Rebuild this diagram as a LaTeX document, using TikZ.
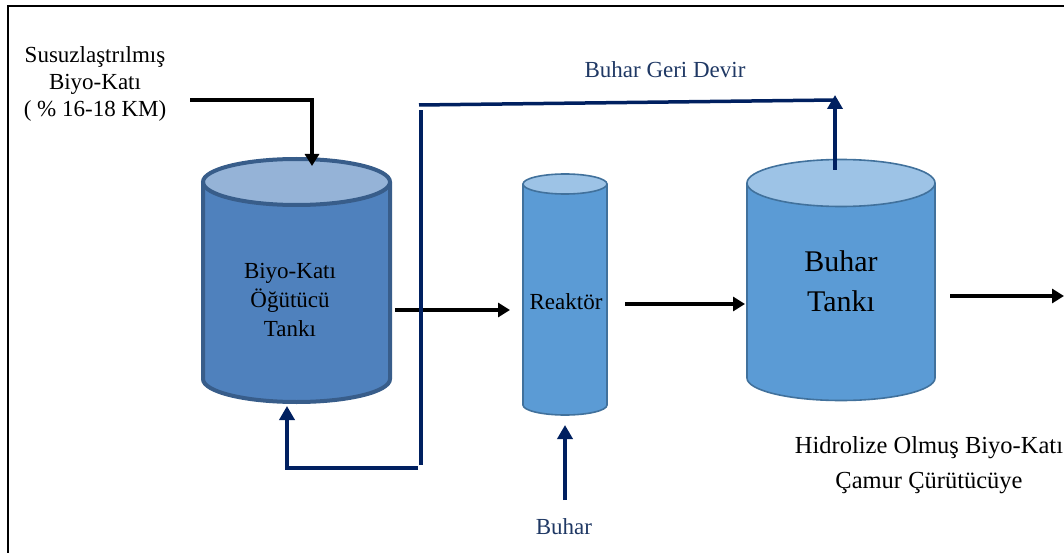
\documentclass[tikz,border=0pt]{standalone}
\usepackage{fontspec}
\setmainfont{Liberation Serif}
\usetikzlibrary{arrows.meta}
\definecolor{navy}{HTML}{002060}
\definecolor{navytext}{HTML}{1F3864}
\definecolor{cAbody}{HTML}{4F81BD}
\definecolor{cAtop}{HTML}{95B3D7}
\definecolor{cAline}{HTML}{385D8A}
\definecolor{cBbody}{HTML}{5B9BD5}
\definecolor{cBtop}{HTML}{9DC3E6}
\definecolor{cBline}{HTML}{41719C}
\begin{document}
\begin{tikzpicture}[x=1pt,y=-1pt,
  txt/.style={font=\fontsize{23pt}{27pt}\selectfont, align=center, inner sep=0pt},
  bigtxt/.style={font=\fontsize{30pt}{40pt}\selectfont, align=center, inner sep=0pt},
  prodtxt/.style={font=\fontsize{24.5pt}{35pt}\selectfont, align=center, inner sep=0pt},
  blackarrow/.style={line width=3.5pt, -{Triangle[length=12pt,width=14pt]}},
  navyline/.style={line width=3.5pt, draw=navy},
  navyarrow/.style={line width=3.5pt, draw=navy, -{Triangle[length=14pt,width=15pt]}, navy},
  frameline/.style={line width=2.5pt, black}]
\useasboundingbox (0,0) rectangle (1064,553);
% frame
\draw[frameline] (8,570) -- (8,6) -- (1080,6);

% cylinder 1: Biyo-Katı Öğütücü Tankı
\fill[cAbody] (203,182) -- (203,379) arc[start angle=180,end angle=0,x radius=93.5,y radius=23] -- (390,182) -- cycle;
\fill[cAtop] (296.5,182) ellipse[x radius=93.5,y radius=23];
\draw[cAline, line width=4pt] (203,182) -- (203,379) arc[start angle=180,end angle=0,x radius=93.5,y radius=23] -- (390,182);
\draw[cAline, line width=4pt] (296.5,182) ellipse[x radius=93.5,y radius=23];

% reactor
\fill[cBbody] (523,184) -- (523,405) arc[start angle=180,end angle=0,x radius=42,y radius=10] -- (607,184) -- cycle;
\fill[cBtop] (565,184) ellipse[x radius=42,y radius=10];
\draw[cBline, line width=1.6pt] (523,184) -- (523,405) arc[start angle=180,end angle=0,x radius=42,y radius=10] -- (607,184);
\draw[cBline, line width=1.6pt] (565,184) ellipse[x radius=42,y radius=10];

% buhar tank
\fill[cBbody] (747,183) -- (747,378) arc[start angle=180,end angle=0,x radius=94,y radius=22.5] -- (935,183) -- cycle;
\fill[cBtop] (841,183) ellipse[x radius=94,y radius=23.5];
\draw[cBline, line width=1.6pt] (747,183) -- (747,378) arc[start angle=180,end angle=0,x radius=94,y radius=22.5] -- (935,183);
\draw[cBline, line width=1.6pt] (841,183) ellipse[x radius=94,y radius=23.5];

% texts
\node[txt] (feed) at (95,84) {Susuzlaştrılmış\\Biyo-Katı\\( \% 16-18 KM)};
\node[txt] (grinder) at (290,300) {Biyo-Katı\\[2pt]Öğütücü\\[2pt]Tankı};
\node[txt] (reactor) at (566,302) {Reaktör};
\node[bigtxt] (tank) at (841,281) {Buhar\\Tankı};
\node[txt, text=navytext] (recyc) at (665,70) {Buhar Geri Devir};
\node[txt, text=navytext] (steam) at (564,527) {Buhar};
\node[prodtxt] (product) at (929,465) {Hidrolize Olmuş Biyo-Katı\\Çamur Çürütücüye};

% coordinates for connectors
\coordinate (feedA) at (190,100);
\coordinate (feedB) at (312,100);
\coordinate (feedC) at (312,166);
\coordinate (g1out) at (395,310);
\coordinate (r1in) at (510,310);
\coordinate (r1out) at (625,304);
\coordinate (t1in) at (745,304);
\coordinate (t1out) at (950,296);
\coordinate (outEnd) at (1064,296);
\coordinate (stA) at (565,500);
\coordinate (stB) at (565,425);
\coordinate (rcA) at (418,468);
\coordinate (rcB) at (287,468);
\coordinate (rcC) at (287,406);
\coordinate (vtA) at (421,465);
\coordinate (vtB) at (421,110);
\coordinate (hzA) at (419,105);
\coordinate (hzB) at (835,100);
\coordinate (upA) at (835,170);
\coordinate (upB) at (835,95);

% black connectors
\draw[blackarrow] (feedA) -- (feedB) -- (feedC);
\draw[blackarrow] (g1out) -- (r1in);
\draw[blackarrow] (r1out) -- (t1in);
\draw[blackarrow] (t1out) -- (outEnd);

% navy connectors
\draw[navyarrow] (stA) -- (stB);
\draw[navyarrow] (rcA) -- (rcB) -- (rcC);
\draw[navyline] (vtA) -- (vtB);
\draw[navyline] (hzA) -- (hzB);
\draw[navyarrow] (upA) -- (upB);
\end{tikzpicture}
\end{document}
